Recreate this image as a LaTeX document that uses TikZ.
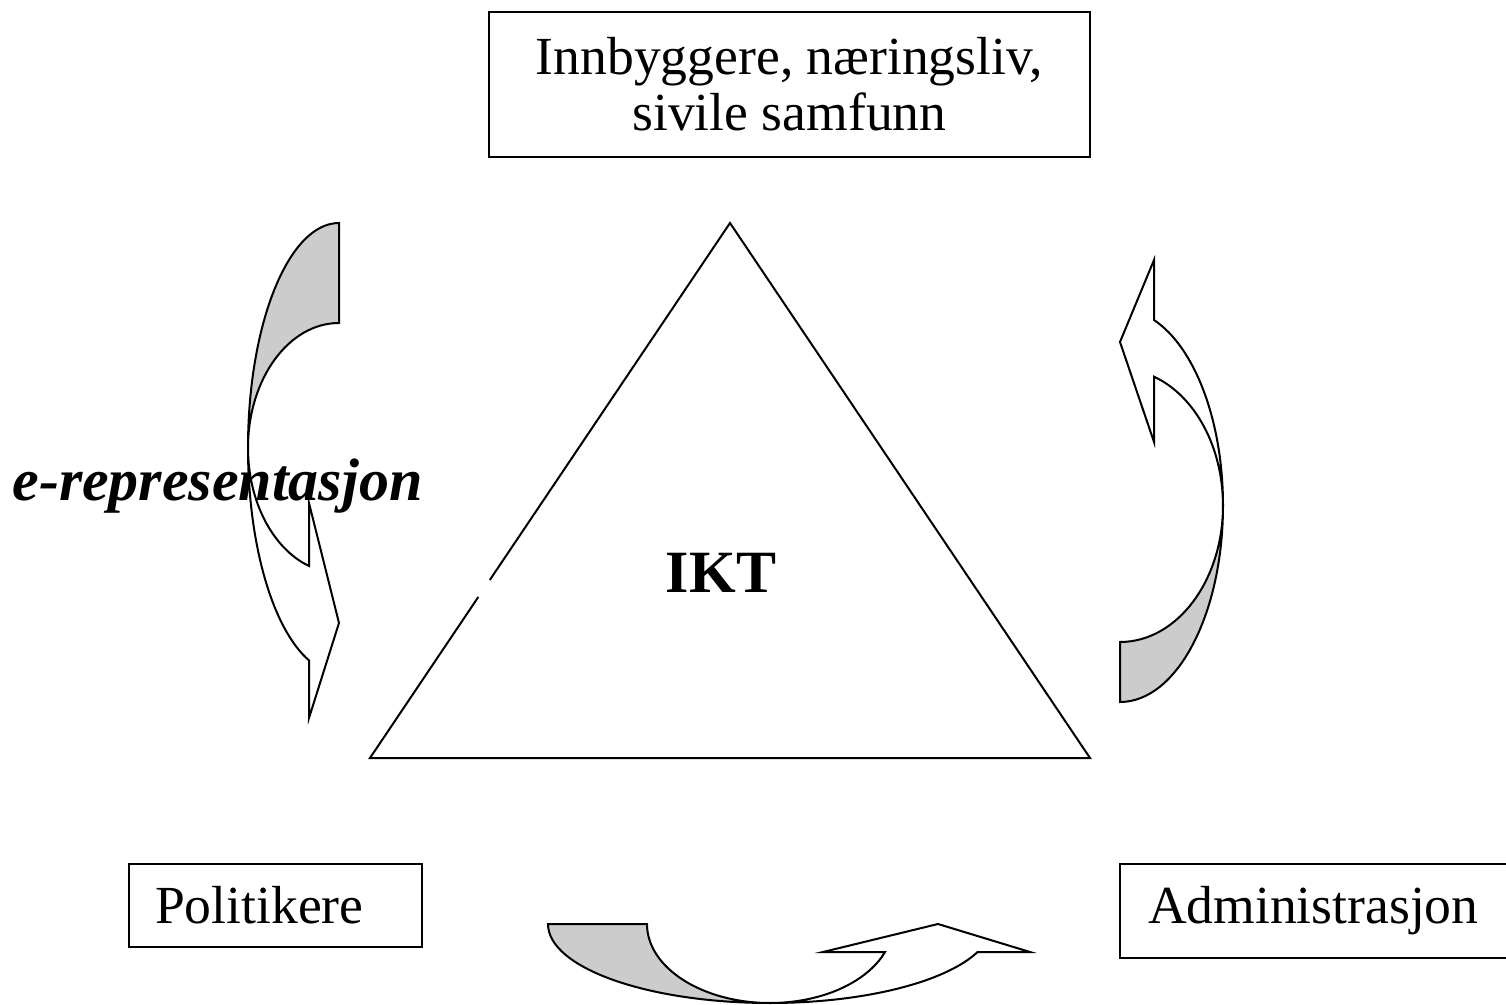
\documentclass[tikz,border=0pt]{standalone}
\usepackage{fontspec}
\setmainfont{Liberation Serif}
\begin{document}
\begin{tikzpicture}[x=0.5pt,y=-0.5pt,
  box/.style={draw,line width=1.2pt,rectangle,inner ysep=0pt,font=\fontsize{26.8}{28}\selectfont},
  shapeline/.style={line width=1pt,line join=miter},
  backpart/.style={shapeline,fill=black!20,draw=black},
  frontpart/.style={shapeline,fill=white,draw=black}]
\useasboundingbox (0,0) rectangle (1506,1005);
% central triangle (with the small gap on its left side)
\draw[shapeline] (478.3,597) -- (370,758) -- (1090,758) -- (730,223) -- (489.8,580);
% boxes
\node[box,minimum width=300.5pt,minimum height=72.5pt,align=center] (citizens) at (789.5,84.5)
  {Innbyggere, næringsliv,\\sivile samfunn};
\node[box,minimum width=146.5pt,minimum height=41.5pt,inner xsep=13pt,text width=120.5pt,align=left] (pol) at (275.5,905.5) {Politikere};
\node[box,minimum width=200pt,minimum height=47pt,inner xsep=14pt,text width=172pt,align=left] (adm) at (1320,911) {Administrasjon};
% labels
\node[font=\bfseries\fontsize{30}{34}\selectfont] (ikt) at (721,573) {IKT};
\node[font=\bfseries\itshape\fontsize{30}{34}\selectfont,anchor=base west,inner sep=0pt] (erep) at (12,501) {e-representasjon};
% left curved arrow (pointing down)
\filldraw[backpart] (339,223) arc[start angle=270,end angle=180,x radius=91,y radius=225]
  arc[start angle=180,end angle=270,x radius=91,y radius=125] -- cycle;
\filldraw[frontpart] (248,448) arc[start angle=180,end angle=109.2,x radius=91,y radius=225]
  -- (309,718) -- (339,623) -- (309,503) -- (309.1,566.05)
  arc[start angle=109.2,end angle=180,x radius=91,y radius=125] -- cycle;
% right curved arrow (pointing up)
\filldraw[backpart] (1120,702) arc[start angle=90,end angle=0,x radius=103,y radius=196.5]
  arc[start angle=0,end angle=90,x radius=103,y radius=136.5] -- cycle;
\filldraw[frontpart] (1223,505.5) arc[start angle=0,end angle=-70.7,x radius=103,y radius=196.5]
  -- (1154,260) -- (1120,342) -- (1154,442) -- (1154.0,376.7)
  arc[start angle=-70.7,end angle=0,x radius=103,y radius=136.5] -- cycle;
% bottom curved arrow (pointing right)
\filldraw[backpart] (548,924) arc[start angle=180,end angle=90,x radius=222,y radius=79]
  arc[start angle=90,end angle=180,x radius=123,y radius=79] -- cycle;
\filldraw[frontpart] (770,1003) arc[start angle=90,end angle=20.76,x radius=222,y radius=79]
  -- (1030,952) -- (938,924) -- (823,952) -- (885.0,952)
  arc[start angle=20.76,end angle=90,x radius=123,y radius=79] -- cycle;
\end{tikzpicture}
\end{document}
